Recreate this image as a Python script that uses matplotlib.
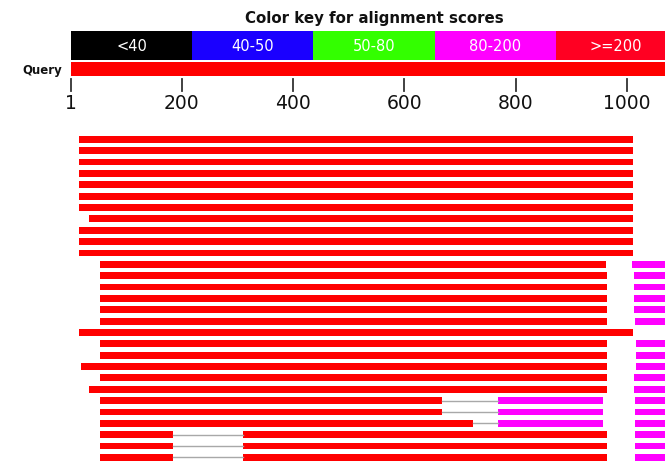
import numpy as np
import matplotlib.pyplot as plt
from matplotlib.patches import Rectangle

# query / colour key
query_len = 1090
key_labels = ['<40', '40-50', '50-80', '80-200', '>=200']
key_colors = ['#000000', '#1a00ff', '#33ff00', '#ff00ff', '#ff0022']
hit_colors = ['#000000', '#0000ff', '#00ff00', '#ff00ff', '#ff0000']
tick_vals = [1, 200, 400, 600, 800, 1000]

# hits: one list of HSPs (start, end, score class) per row
hits = [
    [(15, 1011, 4)],
    [(15, 1011, 4)],
    [(15, 1011, 4)],
    [(15, 1011, 4)],
    [(15, 1011, 4)],
    [(15, 1011, 4)],
    [(15, 1011, 4)],
    [(33, 1011, 4)],
    [(15, 1011, 4)],
    [(15, 1011, 4)],
    [(15, 1011, 4)],
    [(53, 962, 4), (1010, 1090, 3)],
    [(53, 965, 4), (1013, 1090, 3)],
    [(53, 965, 4), (1013, 1090, 3)],
    [(53, 965, 4), (1013, 1090, 3)],
    [(53, 965, 4), (1013, 1090, 3)],
    [(53, 965, 4), (1014, 1090, 3)],
    [(15, 1011, 4)],
    [(53, 964, 4), (1016, 1090, 3)],
    [(53, 964, 4), (1016, 1090, 3)],
    [(19, 964, 4), (1016, 1090, 3)],
    [(53, 964, 4), (1013, 1090, 3)],
    [(33, 964, 4), (1013, 1090, 3)],
    [(53, 668, 4), (769, 958, 3), (1015, 1090, 3)],
    [(53, 668, 4), (769, 958, 3), (1015, 1090, 3)],
    [(53, 724, 4), (769, 958, 3), (1015, 1090, 3)],
    [(53, 184, 4), (310, 965, 4), (1015, 1090, 3)],
    [(53, 184, 4), (310, 965, 4), (1015, 1090, 3)],
    [(53, 184, 4), (310, 965, 4), (1015, 1090, 3)],
]
# gaps joined by a thin grey line: (row, start, end)
links = [(23, 668, 769), (24, 668, 769), (25, 724, 769),
         (26, 184, 310), (27, 184, 310), (28, 184, 310)]

fig = plt.figure(figsize=(6.65, 4.64), dpi=100)
ax = fig.add_axes([0, 0, 1, 1])
ax.set_xlim(-127.2, 1068.8)
ax.set_ylim(28.49, -12.35)
ax.axis('off')

# colour key
edges = np.linspace(1, query_len, len(key_labels) + 1)
for i, lab in enumerate(key_labels):
    ax.add_patch(Rectangle((edges[i], -9.53), edges[i+1] - edges[i], 2.55,
                           color=key_colors[i], lw=0))
    ax.text((edges[i] + edges[i+1]) / 2, -8.25, lab, color='white',
            fontsize=10.5, ha='center', va='center')
ax.text(edges[0] + (edges[-1] - edges[0]) / 2, -10.75,
        'Color key for alignment scores', fontsize=10.8, fontweight='bold',
        ha='center', va='center', color='#111111')

# query bar + ruler
ax.add_patch(Rectangle((1, -6.8), query_len - 1, 1.23, color='#ff0000', lw=0))
ax.text(-16, -6.15, 'Query', fontsize=8.5, fontweight='bold',
        ha='right', va='center', color='#111111')
for t in tick_vals:
    ax.plot([t, t], [-5.31, -4.25], color='#333333', lw=1.3)
    ax.text(t, -3.28, str(t), fontsize=13.5, ha='center', va='center',
            color='#111111')

# hits
bar_h = 0.6
for row, hsps in enumerate(hits):
    for s, e, c in hsps:
        ax.add_patch(Rectangle((s, row - bar_h / 2), e - s, bar_h,
                               color=hit_colors[c], lw=0))
for row, s, e in links:
    ax.plot([s, e], [row, row], color='#a8a8a8', lw=1)

fig.savefig('out.png', dpi=100)
